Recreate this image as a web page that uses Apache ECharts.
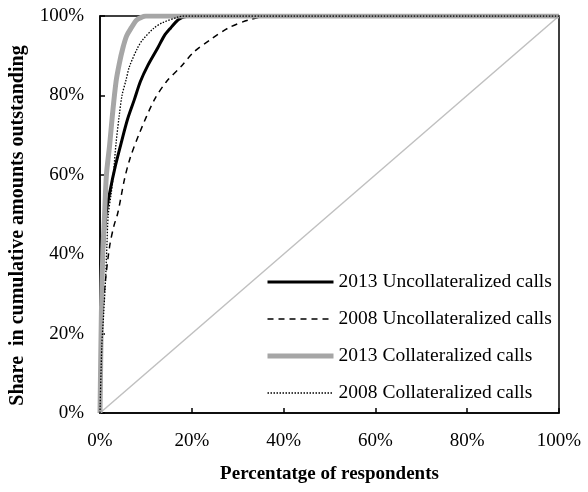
<!DOCTYPE html>
<html>
<head>
<meta charset="utf-8">
<script src="https://cdn.jsdelivr.net/npm/echarts@6/dist/echarts.min.js"></script>
<style>
  html, body { margin: 0; padding: 0; background: #fff; }
  #chart { width: 588px; height: 492px; }
</style>
</head>
<body>
<div id="chart"></div>
<script>
// x = percentage of respondents, y = share in cumulative amounts outstanding
let unc2013 = [[0,0],[0.3,25],[0.7,40],[1.3,50],[2.2,56],[3.3,62],[4.5,67.5],[6,74],[7.5,79],[8.8,83.5],[10.4,87.5],[12.6,92],[14,95],[15.4,97],[17,99],[18,99.7],[20,100],[100,100]];
let unc2008 = [[0,0],[0.3,15],[0.6,25],[1.2,33.5],[2.1,42],[3,47],[3.9,50.5],[5.3,58.7],[6.5,64],[8.6,70.5],[11.8,78.8],[14.5,83.5],[17.6,87.2],[20.5,91],[24,94],[28,97],[32.4,99],[37,100],[100,100]];
let col2013 = [[0,0],[0.3,25],[0.6,40],[1,50],[1.4,60],[2.1,67.5],[2.7,75],[3.5,83.5],[4.2,88],[5,92],[5.8,95],[6.8,97],[8,99],[9.3,99.8],[10,100],[100,100]];
let col2008 = [[0,0],[0.4,17],[0.8,25],[1.2,33.5],[1.5,42],[1.8,50],[2.4,55],[2.9,60],[3.5,68],[4.2,75],[4.8,80],[5.7,84],[6.4,87.2],[8.2,92],[9.3,94],[11.8,97],[13.6,98.3],[16.9,99.7],[18,100],[100,100]];
let equality = [[0,0],[100,100]];
let names = ['2013 Uncollateralized calls', '2008 Uncollateralized calls', '2013 Collateralized calls', '2008 Collateralized calls'];

let serif = '"Liberation Serif", "Times New Roman", serif';

let chart = echarts.init(document.getElementById('chart'));

let styles = [
    {color: '#000', width: 3, type: 'solid'},
    {color: '#000', width: 1.5, type: [6, 5]},
    {color: '#a6a6a6', width: 5, type: 'solid'},
    {color: '#000', width: 1.3, type: [1.5, 1.5]}
];

function curve(i, data) {
    return {
        name: names[i],
        type: 'line',
        data: data,
        symbol: 'none',
        showSymbol: false,
        smooth: 0.3,
        lineStyle: styles[i],
        itemStyle: {color: styles[i].color},
        animation: false
    };
}

let option = {
    backgroundColor: '#fff',
    animation: false,
    grid: {
        left: 97, right: 29, top: 16, bottom: 79,
        show: true, borderColor: '#000', borderWidth: 1.5
    },
    legend: {
        data: names.map((n, i) => ({name: n, lineStyle: styles[i], itemStyle: {opacity: 0}})),
        orient: 'vertical',
        left: 260,
        top: 267,
        itemWidth: 66,
        itemHeight: 14,
        itemGap: 17,
        itemStyle: {opacity: 0},
        textStyle: {fontFamily: serif, fontSize: 19.5, color: '#000', lineHeight: 20}
    },
    xAxis: {
        type: 'value',
        min: 0, max: 100, interval: 20,
        name: 'Percentatge of respondents',
        nameLocation: 'middle',
        nameGap: 52,
        nameTextStyle: {fontFamily: serif, fontSize: 19, fontWeight: 'bold', color: '#000'},
        axisLine: {show: true, lineStyle: {color: '#000', width: 1.5}},
        axisTick: {show: true, inside: true, length: 5, lineStyle: {color: '#000', width: 1.5}},
        axisLabel: {formatter: '{value}%', fontFamily: serif, fontSize: 19, color: '#000', margin: 19},
        splitLine: {show: false}
    },
    yAxis: {
        type: 'value',
        min: 0, max: 100, interval: 20,
        name: 'Share  in cumulative amounts outstanding',
        nameLocation: 'middle',
        nameGap: 72,
        nameTextStyle: {fontFamily: serif, fontSize: 20, fontWeight: 'bold', color: '#000', padding: [0, 0, 0, -22]},
        axisLine: {show: true, lineStyle: {color: '#000', width: 1.5}},
        axisTick: {show: true, inside: true, length: 5, lineStyle: {color: '#000', width: 1.5}},
        axisLabel: {formatter: '{value}%', fontFamily: serif, fontSize: 19, color: '#000', margin: 16},
        splitLine: {show: false}
    },
    series: [
        {
            type: 'line', data: equality, symbol: 'none',
            lineStyle: {color: '#c0c0c0', width: 1.5}, silent: true, animation: false
        },
        curve(0, unc2013),
        curve(1, unc2008),
        curve(2, col2013),
        curve(3, col2008)
    ]
};
chart.setOption(option);
</script>
</body>
</html>
